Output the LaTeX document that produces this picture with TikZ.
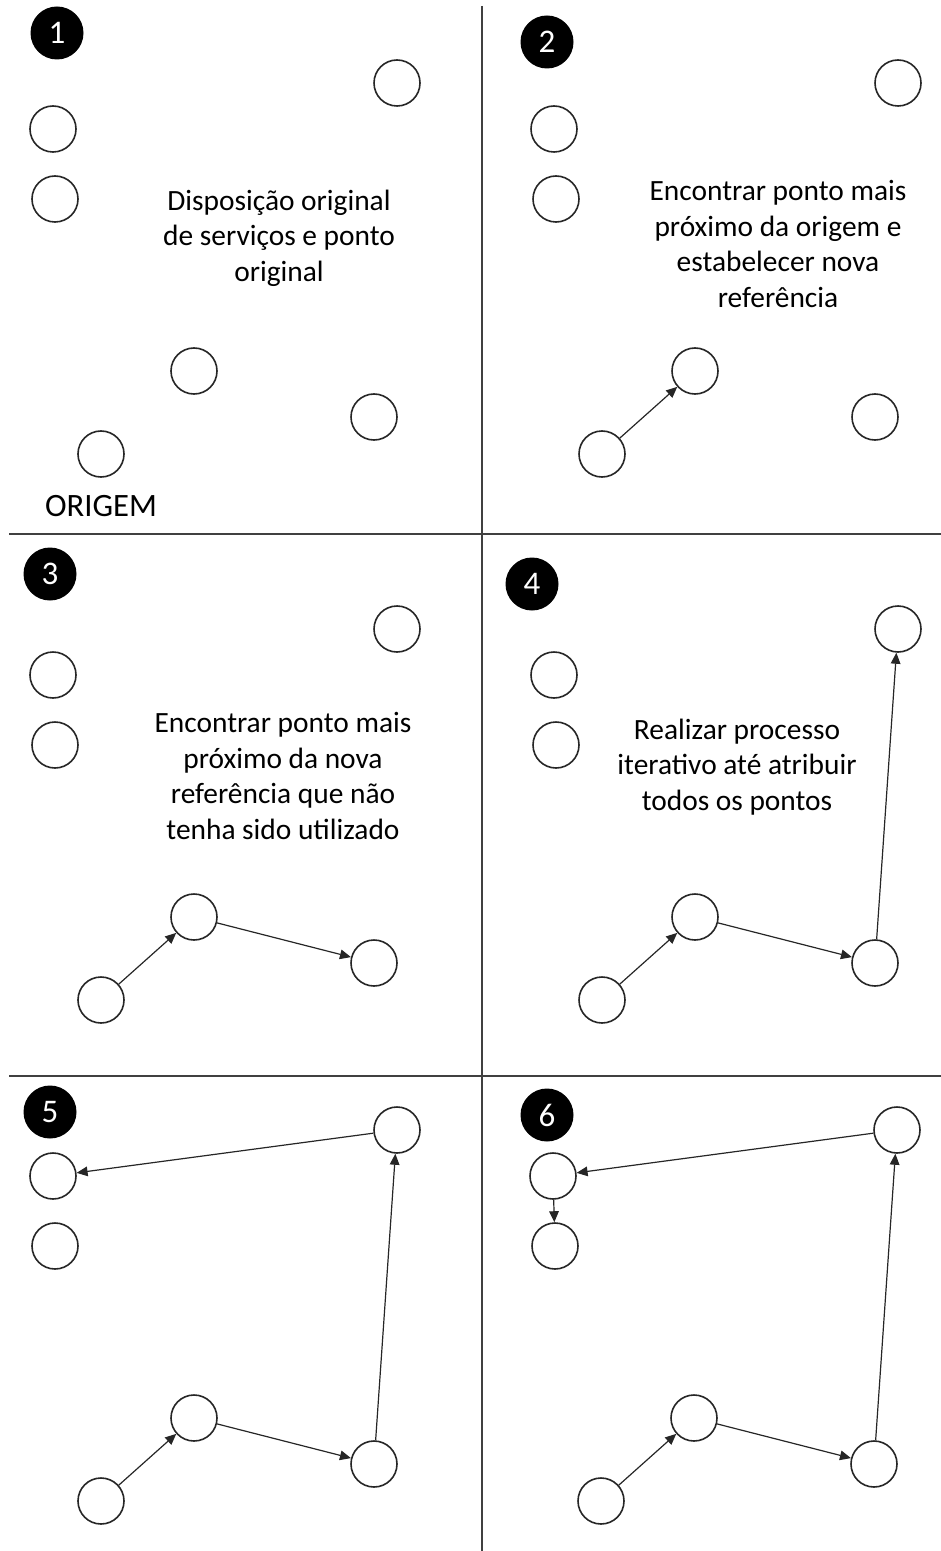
\documentclass[tikz,border=0pt]{standalone}
\usepackage{fontspec}
\setmainfont{Carlito}
\usetikzlibrary{arrows.meta}
\tikzset{
  pt/.style={circle, draw=black!85, line width=0.8pt, minimum size=23pt, inner sep=0pt, fill=white},
  badge/.style={circle, fill=black, minimum size=26.5pt, inner sep=0pt, text=white, font=\fontsize{16.5}{19}\selectfont},
  lbl/.style={align=center, font=\fontsize{14.7}{17.8}\selectfont, inner sep=0pt},
  link/.style={-{Triangle[length=5.5pt,width=4.8pt]}, line width=0.6pt, black!85},
  frame/.style={line width=0.8pt, black!75}
}
% six service points of one panel, named <prefix>a ... <prefix>f
\newcommand\servicepoints[1]{%
  \node[pt] (#1a) at (101,454) {};
  \node[pt] (#1b) at (194,371) {};
  \node[pt] (#1c) at (374,417) {};
  \node[pt] (#1d) at (397,83) {};
  \node[pt] (#1e) at (53,129) {};
  \node[pt] (#1f) at (55,199) {};
}
\begin{document}
\begin{tikzpicture}[x=0.5pt, y=-0.5pt]
\useasboundingbox (0,0) rectangle (941,1551);

% grid separating the six panels
\coordinate (vt) at (482,6);
\coordinate (vb) at (482,1551);
\coordinate (h1l) at (9,534);
\coordinate (h1r) at (941,534);
\coordinate (h2l) at (9,1076);
\coordinate (h2r) at (941,1076);
\draw[frame] (vt) -- (vb);
\draw[frame] (h1l) -- (h1r);
\draw[frame] (h2l) -- (h2r);

% panel 1
\begin{scope}
  \servicepoints{p1}
  \node[badge] (b1) at (57,33) {1};
  \node[lbl] (t1) at (279,238) {Disposição original\\de serviços e ponto\\original};
  \node[font=\fontsize{16.3}{19}\selectfont, anchor=base] (o1) at (101,516) {ORIGEM};
\end{scope}

% panel 2
\begin{scope}[shift={(501,0)}]
  \servicepoints{p2}
  \node[badge] (b2) at (46,42) {2};
  \node[lbl] (t2) at (277,244) {Encontrar ponto mais\\próximo da origem e\\estabelecer nova\\referência};
\end{scope}
\draw[link] (p2a) -- (p2b);

% panel 3
\begin{scope}[shift={(0,546)}]
  \servicepoints{p3}
  \node[badge] (b3) at (50,28) {3};
  \node[lbl] (t3) at (283,230) {Encontrar ponto mais\\próximo da nova\\referência que não\\tenha sido utilizado};
\end{scope}
\draw[link] (p3a) -- (p3b);
\draw[link] (p3b) -- (p3c);

% panel 4
\begin{scope}[shift={(501,546)}]
  \servicepoints{p4}
  \node[badge] (b4) at (31,38) {4};
  \node[lbl] (t4) at (236,221) {Realizar processo\\iterativo até atribuir\\todos os pontos};
\end{scope}
\draw[link] (p4a) -- (p4b);
\draw[link] (p4b) -- (p4c);
\draw[link] (p4c) -- (p4d);

% panel 5
\begin{scope}[shift={(0,1047)}]
  \servicepoints{p5}
  \node[badge] (b5) at (50,65) {5};
\end{scope}
\draw[link] (p5a) -- (p5b);
\draw[link] (p5b) -- (p5c);
\draw[link] (p5c) -- (p5d);
\draw[link] (p5d) -- (p5e);

% panel 6
\begin{scope}[shift={(500,1047)}]
  \servicepoints{p6}
  \node[badge] (b6) at (47,68) {6};
\end{scope}
\draw[link] (p6a) -- (p6b);
\draw[link] (p6b) -- (p6c);
\draw[link] (p6c) -- (p6d);
\draw[link] (p6d) -- (p6e);
\draw[link] (p6e) -- (p6f);
\end{tikzpicture}
\end{document}
